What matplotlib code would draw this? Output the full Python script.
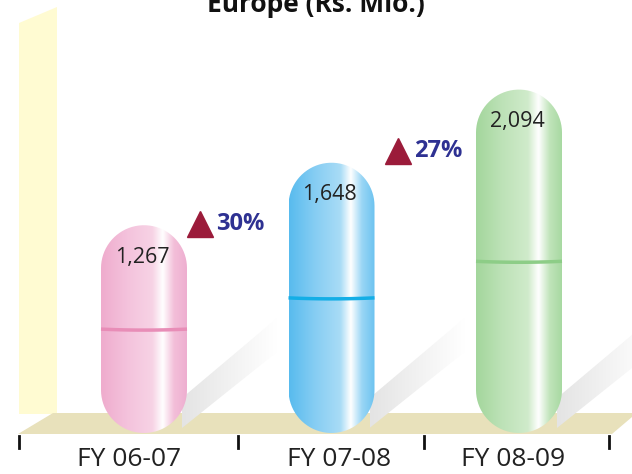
import numpy as np
import matplotlib
matplotlib.use("Agg")
import matplotlib.pyplot as plt
from matplotlib.path import Path
from matplotlib.patches import PathPatch, Polygon
from matplotlib.colors import LinearSegmentedColormap

years = ["FY 06-07", "FY 07-08", "FY 08-09"]
sales = [1267, 1648, 2094]
title = "Europe (Rs. Mio.)"

pill_colors = [
    ["#efaccd", "#f4c2dc", "#f7d3e5", "#ffffff", "#f3bfd9", "#eeaed0"],
    ["#58bbee", "#86cdf3", "#a9dcf6", "#ffffff", "#9ad6f5", "#6cc3f0"],
    ["#a3d69c", "#bde2b7", "#d0ebcb", "#ffffff", "#c0e4ba", "#a6d8a0"],
]
line_colors = ["#e88db7", "#14aee6", "#8dcd87"]

plt.rcParams["font.family"] = ["Open Sans", "DejaVu Sans"]

W, H = 632, 474
fig = plt.figure(figsize=(W / 100, H / 100), dpi=100)
ax = fig.add_axes([0, 0, 1, 1])

# pixel <-> data mapping
x0_px, dx_px = 144, 187.5
base_px, k = 433, 0.164
ax.set_xlim((0 - x0_px) / dx_px, (W - x0_px) / dx_px)
ax.set_ylim((base_px - H) / k, base_px / k)
ax.axis("off")


def px(x, y):
    return (x - x0_px) / dx_px, (base_px - y) / k


# back wall and floor
wall = [px(19, 414), px(19, 23), px(57, 7), px(57, 414)]
ax.add_patch(Polygon(wall, closed=True, fc="#fffbd2", ec="none", zorder=1))
floor = [px(18, 434), px(53, 413), px(632, 413), px(632, 417), px(612, 434)]
ax.add_patch(Polygon(floor, closed=True, fc="#e8e1bb", ec="none", zorder=2))

rx = 43 / dx_px
ry = 43 / k
xs = np.arange(len(sales))
shadow_cmap = LinearSegmentedColormap.from_list("sh", ["#e4e4e4", "#ffffff"])

for i, v in enumerate(sales):
    c = xs[i]
    # soft shadow
    re = x0_px + c * dx_px + 43
    sh = [px(re - 5, 428), px(re - 5, 398), px(re + 90, 318), px(re + 90, 352)]
    shp = Polygon(sh, closed=True, fc="none", ec="none", zorder=2)
    ax.add_patch(shp)
    a0, b0 = px(re - 5, 0)[0], px(re + 90, 0)[0]
    sim = ax.imshow(np.linspace(0, 1, 64).reshape(1, -1), cmap=shadow_cmap,
                    aspect="auto", interpolation="bicubic",
                    extent=(a0, b0, px(0, 430)[1], px(0, 315)[1]), zorder=2)
    sim.set_clip_path(shp)

    t = np.linspace(0, np.pi, 40)
    top_x = c + rx * np.cos(t)
    top_y = v - ry + ry * np.sin(t)
    bot_x = c - rx * np.cos(t)
    bot_y = ry - ry * np.sin(t)
    verts = np.column_stack([np.r_[top_x, bot_x], np.r_[top_y, bot_y]])
    patch = PathPatch(Path(np.vstack([verts, verts[:1]]), closed=True),
                      fc="none", ec="none", zorder=3)
    ax.add_patch(patch)
    cmap = LinearSegmentedColormap.from_list(
        "p%d" % i, list(zip([0, 0.3, 0.6, 0.72, 0.85, 1.0], pill_colors[i])))
    grad = np.linspace(0, 1, 256).reshape(1, -1)
    im = ax.imshow(grad, cmap=cmap, aspect="auto", interpolation="bicubic",
                   extent=(c - rx, c + rx, 0, v), zorder=3)
    im.set_clip_path(patch)

    # seam line
    sx = np.linspace(c - rx, c + rx, 30)
    sy = v / 2 - 6 * (1 - ((sx - c) / rx) ** 2)
    ax.plot(sx, sy, color=line_colors[i], lw=2.5, zorder=4,
            solid_capstyle="butt")

    ax.text(c - 0.01, v - 195, f"{v:,}", ha="center", va="center",
            fontsize=15.5, color="#222222", zorder=5)

# growth markers
growth_x = [0.30, 1.355]
growth_dy = [7, 72]
for i in range(len(sales) - 1):
    g = (sales[i + 1] - sales[i]) / sales[i] * 100
    gx = growth_x[i]
    gy = sales[i] + growth_dy[i]
    ax.plot(gx, gy, marker="^", ms=19, color="#9b1b3a", mec="#9b1b3a",
            zorder=5)
    ax.text(gx + 0.085, gy, f"{g:.0f}%", ha="left", va="center",
            fontsize=17, fontweight="bold", color="#2e3192", zorder=5)

# ticks and labels
for tx in [19, 238, 424, 609]:
    a, b = px(tx, 436), px(tx, 448)
    ax.plot([a[0], b[0]], [a[1], b[1]], color="#111111", lw=2, zorder=5)
label_y = px(0, 460)[1]
for i, lab in enumerate(years):
    ax.text(xs[i] + [-0.08, 0.04, -0.03][i], label_y, lab, ha="center",
            va="center", fontsize=19, color="#222222")

tx_, ty_ = px(316, 12)
ax.text(tx_, ty_, title, ha="center", va="baseline", fontsize=19,
        fontweight="bold", color="#111111")

fig.savefig("out.png", dpi=100)
